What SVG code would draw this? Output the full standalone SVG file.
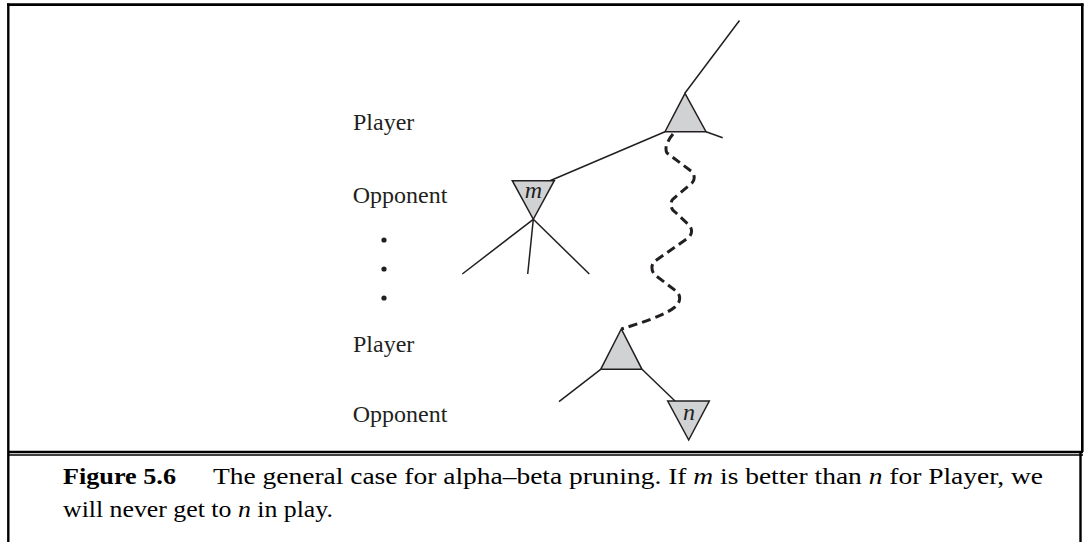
<svg xmlns="http://www.w3.org/2000/svg" width="1088" height="542" viewBox="0 0 1088 542">
<style>
.lbl{font-family:"Liberation Serif","Times New Roman",serif;font-size:24px;fill:#231f20}
.cap{font-family:"Liberation Serif","Times New Roman",serif;font-size:24px;fill:#000}
.mi{font-style:italic}
.edge{stroke:#231f20;stroke-width:1.5;fill:none}
.tri{fill:#d1d2d4;stroke:#231f20;stroke-width:1.5;stroke-linejoin:miter}
.wig{stroke:#231f20;stroke-width:3;fill:none;stroke-dasharray:9 5}
.frame{stroke:#000;fill:none}
</style>
<rect width="1088" height="542" fill="#fff"/>
<g id="frame">
<line class="frame" x1="7" y1="4.7" x2="1083.5" y2="4.7" stroke-width="2.8"/>
<line class="frame" x1="8.3" y1="3.5" x2="8.3" y2="542" stroke-width="2.4"/>
<line class="frame" x1="1082.3" y1="3.5" x2="1082.3" y2="452" stroke-width="2.6"/>
<line class="frame" x1="1080.5" y1="452" x2="1080.5" y2="542" stroke-width="2.4"/>
<line class="frame" x1="8" y1="452" x2="1083" y2="452" stroke-width="2.7"/>
<line class="frame" x1="8" y1="455" x2="1083" y2="455" stroke-width="1.3"/>
</g>
<g id="connectors">
<line class="edge" x1="685" y1="93" x2="739.5" y2="20.5"/>
<line class="edge" x1="706" y1="131.7" x2="722.7" y2="137.7"/>
<line class="edge" x1="665" y1="131.7" x2="550" y2="180.7"/>
<line class="edge" x1="533.3" y1="219.3" x2="462.3" y2="274"/>
<line class="edge" x1="533.3" y1="219.3" x2="527.7" y2="274"/>
<line class="edge" x1="533.3" y1="219.3" x2="589.3" y2="274"/>
<line class="edge" x1="600.7" y1="369.3" x2="559" y2="401.7"/>
<line class="edge" x1="642" y1="369.3" x2="675" y2="401"/>
<path class="wig" d="M673,134 C668,140 664,148 667,153 L691,171 C695,174 695,180 692,183 L673,199 C670,202 670,209 675,212 L689,225 C692,228 693,234 688,238 L655,261 C651,264 651,271 655,275 L676,291 C681,295 681,302 675,307 C664,316 640,323 621.5,329"/>
</g>
<g id="node-top-player">
<polygon class="tri" points="685,93.3 665,131.7 706,131.7"/>
</g>
<g id="node-m">
<polygon class="tri" points="512.3,180.7 554.3,180.7 533.3,219.3"/>
<text class="lbl mi" x="533.5" y="198" text-anchor="middle">m</text>
</g>
<g id="node-bottom-player">
<polygon class="tri" points="621.3,329 600.7,369.3 642,369.3"/>
</g>
<g id="node-n">
<polygon class="tri" points="667.7,401 709.3,401 688.7,440"/>
<text class="lbl mi" x="689" y="420" text-anchor="middle">n</text>
</g>
<g id="labels">
<text class="lbl" x="353" y="130">Player</text>
<text class="lbl" x="352.7" y="203">Opponent</text>
<circle cx="384" cy="240" r="2.6" fill="#231f20"/>
<circle cx="384" cy="269" r="2.6" fill="#231f20"/>
<circle cx="384" cy="298" r="2.6" fill="#231f20"/>
<text class="lbl" x="353" y="352">Player</text>
<text class="lbl" x="352.7" y="421.7">Opponent</text>
</g>
<g id="caption">
<text class="cap" x="63" y="483.5" font-weight="bold" textLength="113" lengthAdjust="spacingAndGlyphs">Figure 5.6</text>
<text class="cap" x="213" y="483.5" textLength="830" lengthAdjust="spacingAndGlyphs">The general case for alpha–beta pruning. If <tspan class="mi">m</tspan> is better than <tspan class="mi">n</tspan> for Player, we</text>
<text class="cap" x="63" y="516.7" textLength="270" lengthAdjust="spacingAndGlyphs">will never get to <tspan class="mi">n</tspan> in play.</text>
</g>
</svg>
